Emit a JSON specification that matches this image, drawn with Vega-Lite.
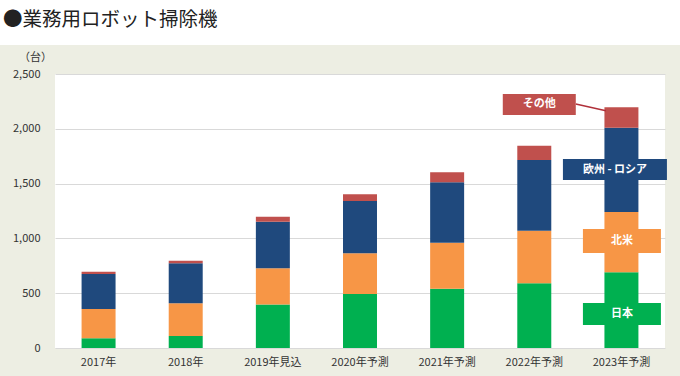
{
  "$schema": "https://vega.github.io/schema/vega-lite/v6.json",
  "width": 610,
  "height": 274,
  "autosize": {"type": "none"},
  "padding": {"left": 55, "top": 74, "right": 15, "bottom": 28},
  "background": "#EDEEE3",
  "config": {
    "view": {"fill": "white", "stroke": null},
    "font": "Noto Sans CJK JP"
  },
  "title": {
    "text": "●業務用ロボット掃除機",
    "anchor": "start",
    "frame": "group",
    "dx": -52,
    "dy": 34,
    "fontSize": 19.5,
    "fontWeight": "normal",
    "color": "#222222",
    "font": "Noto Sans CJK JP"
  },
  "datasets": {
    "sales": [
      {"cat": "2017年", "region": "日本", "ord": 1, "value": 90},
      {"cat": "2017年", "region": "北米", "ord": 2, "value": 265},
      {"cat": "2017年", "region": "欧州・ロシア", "ord": 3, "value": 320},
      {"cat": "2017年", "region": "その他", "ord": 4, "value": 20},
      {"cat": "2018年", "region": "日本", "ord": 1, "value": 110},
      {"cat": "2018年", "region": "北米", "ord": 2, "value": 298},
      {"cat": "2018年", "region": "欧州・ロシア", "ord": 3, "value": 365},
      {"cat": "2018年", "region": "その他", "ord": 4, "value": 24},
      {"cat": "2019年見込", "region": "日本", "ord": 1, "value": 398},
      {"cat": "2019年見込", "region": "北米", "ord": 2, "value": 329},
      {"cat": "2019年見込", "region": "欧州・ロシア", "ord": 3, "value": 425},
      {"cat": "2019年見込", "region": "その他", "ord": 4, "value": 45},
      {"cat": "2020年予測", "region": "日本", "ord": 1, "value": 493},
      {"cat": "2020年予測", "region": "北米", "ord": 2, "value": 371},
      {"cat": "2020年予測", "region": "欧州・ロシア", "ord": 3, "value": 477},
      {"cat": "2020年予測", "region": "その他", "ord": 4, "value": 61},
      {"cat": "2021年予測", "region": "日本", "ord": 1, "value": 541},
      {"cat": "2021年予測", "region": "北米", "ord": 2, "value": 420},
      {"cat": "2021年予測", "region": "欧州・ロシア", "ord": 3, "value": 551},
      {"cat": "2021年予測", "region": "その他", "ord": 4, "value": 91},
      {"cat": "2022年予測", "region": "日本", "ord": 1, "value": 590},
      {"cat": "2022年予測", "region": "北米", "ord": 2, "value": 480},
      {"cat": "2022年予測", "region": "欧州・ロシア", "ord": 3, "value": 645},
      {"cat": "2022年予測", "region": "その他", "ord": 4, "value": 131},
      {"cat": "2023年予測", "region": "日本", "ord": 1, "value": 691},
      {"cat": "2023年予測", "region": "北米", "ord": 2, "value": 550},
      {"cat": "2023年予測", "region": "欧州・ロシア", "ord": 3, "value": 769},
      {"cat": "2023年予測", "region": "その他", "ord": 4, "value": 186}
    ],
    "labels": [
      {"label": "その他", "region": "その他", "cat": "2022年予測", "lo": 2126, "hi": 2318, "mid": 2222},
      {"label": "欧州 - ロシア", "region": "欧州・ロシア", "cat": "2023年予測", "lo": 1533, "hi": 1724, "mid": 1628},
      {"label": "北米", "region": "北米", "cat": "2023年予測", "lo": 867, "hi": 1086, "mid": 976},
      {"label": "日本", "region": "日本", "cat": "2023年予測", "lo": 210, "hi": 411, "mid": 310}
    ],
    "connector": [
      {"from": "2022年予測", "to": "2023年予測", "y1": 2226, "y2": 2165}
    ]
  },
  "layer": [
    {
      "data": {"values": [{}]},
      "mark": {"type": "rect", "color": "white", "clip": false},
      "encoding": {
        "x": {"value": -55},
        "x2": {"value": 625},
        "y": {"value": -74},
        "y2": {"value": -29}
      }
    },
    {
      "data": {"name": "sales"},
      "mark": {"type": "bar"},
      "encoding": {
        "x": {
          "field": "cat",
          "type": "nominal",
          "sort": null,
          "scale": {"paddingInner": 0.61, "paddingOuter": 0.305},
          "axis": {
            "title": null,
            "labelAngle": 0,
            "ticks": false,
            "tickSize": 0,
            "domain": false,
            "labelPadding": 8,
            "labelFontSize": 11,
            "labelColor": "#333333",
            "labelFont": "Noto Sans CJK JP"
          }
        },
        "y": {
          "field": "value",
          "type": "quantitative",
          "stack": "zero",
          "scale": {"domain": [0, 2500], "nice": false},
          "axis": {
            "title": "（台）",
            "titleAngle": 0,
            "titleX": -20,
            "titleY": -17,
            "titleAlign": "center",
            "titleBaseline": "middle",
            "titleFontSize": 11,
            "titleFontWeight": "normal",
            "titleColor": "#333333",
            "values": [0, 500, 1000, 1500, 2000, 2500],
            "format": ",.0f",
            "ticks": false,
            "tickSize": 0,
            "domain": false,
            "labelPadding": 15,
            "labelFontSize": 11,
            "labelColor": "#333333",
            "gridColor": "#D9D9D9",
            "gridWidth": 1
          }
        },
        "color": {
          "field": "region",
          "type": "nominal",
          "scale": {
            "domain": ["日本", "北米", "欧州・ロシア", "その他"],
            "range": ["#00B050", "#F79646", "#1F497D", "#C0504D"]
          },
          "legend": null
        },
        "order": {"field": "ord", "type": "quantitative"}
      }
    },
    {
      "data": {"name": "connector"},
      "mark": {"type": "rule", "color": "#B0303A", "strokeWidth": 1.5, "xOffset": 41.5, "x2Offset": -15.5},
      "encoding": {
        "x": {"field": "from", "type": "nominal", "sort": null},
        "x2": {"field": "to"},
        "y": {"field": "y1", "type": "quantitative"},
        "y2": {"field": "y2"}
      }
    },
    {
      "data": {"name": "labels"},
      "transform": [{"filter": "datum.label == 'その他'"}],
      "mark": {"type": "bar", "width": 73, "xOffset": 5},
      "encoding": {
        "x": {"field": "cat", "type": "nominal", "sort": null},
        "y": {"field": "lo", "type": "quantitative"},
        "y2": {"field": "hi"},
        "color": {"field": "region", "type": "nominal", "legend": null}
      }
    },
    {
      "data": {"name": "labels"},
      "transform": [{"filter": "datum.label == '欧州 - ロシア'"}],
      "mark": {"type": "bar", "width": 104, "xOffset": -6.5},
      "encoding": {
        "x": {"field": "cat", "type": "nominal", "sort": null},
        "y": {"field": "lo", "type": "quantitative"},
        "y2": {"field": "hi"},
        "color": {"field": "region", "type": "nominal", "legend": null}
      }
    },
    {
      "data": {"name": "labels"},
      "transform": [{"filter": "datum.label == '北米' || datum.label == '日本'"}],
      "mark": {"type": "bar", "width": 78, "xOffset": 0.5},
      "encoding": {
        "x": {"field": "cat", "type": "nominal", "sort": null},
        "y": {"field": "lo", "type": "quantitative"},
        "y2": {"field": "hi"},
        "color": {"field": "region", "type": "nominal", "legend": null}
      }
    },
    {
      "data": {"name": "labels"},
      "transform": [{"filter": "datum.label == 'その他'"}],
      "mark": {"type": "text", "color": "white", "fontWeight": "bold", "fontSize": 11, "xOffset": 5, "baseline": "middle"},
      "encoding": {
        "x": {"field": "cat", "type": "nominal", "sort": null},
        "y": {"field": "mid", "type": "quantitative"},
        "text": {"field": "label"}
      }
    },
    {
      "data": {"name": "labels"},
      "transform": [{"filter": "datum.label == '欧州 - ロシア'"}],
      "mark": {"type": "text", "color": "white", "fontWeight": "bold", "fontSize": 11, "xOffset": -6.5, "baseline": "middle"},
      "encoding": {
        "x": {"field": "cat", "type": "nominal", "sort": null},
        "y": {"field": "mid", "type": "quantitative"},
        "text": {"field": "label"}
      }
    },
    {
      "data": {"name": "labels"},
      "transform": [{"filter": "datum.label == '北米' || datum.label == '日本'"}],
      "mark": {"type": "text", "color": "white", "fontWeight": "bold", "fontSize": 11, "xOffset": 0.5, "baseline": "middle"},
      "encoding": {
        "x": {"field": "cat", "type": "nominal", "sort": null},
        "y": {"field": "mid", "type": "quantitative"},
        "text": {"field": "label"}
      }
    }
  ]
}
